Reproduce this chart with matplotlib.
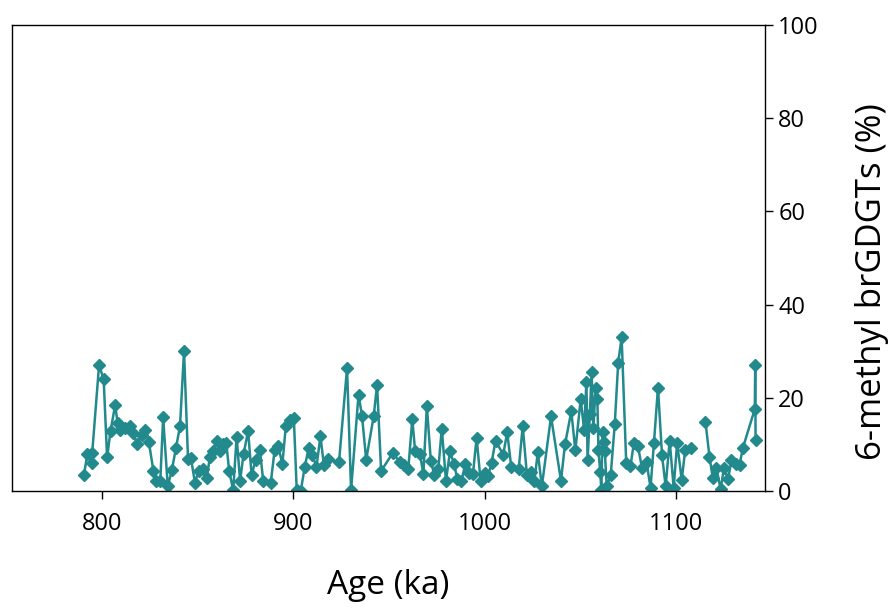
import numpy as np
import matplotlib
matplotlib.use('Agg')
import matplotlib.pyplot as plt

plt.rcParams['font.family'] = ['Open Sans', 'DejaVu Sans']

# age (ka) and 6-methyl brGDGT percentage
age = [790.6, 792.4, 794.6, 794.9, 798.5, 800.9, 802.7, 804.5, 806.9, 808.2,
       809.7, 811.8, 814.5, 816.3, 818.4, 820.8, 822.7, 824.5, 826.9, 828.1,
       830.5, 832.0, 834.4, 836.6, 838.7, 840.8, 842.9, 845.0, 846.5, 848.6,
       850.5, 852.6, 854.7, 856.5, 858.3, 860.1, 861.6, 863.1, 865.0, 866.5,
       868.6, 870.4, 872.2, 874.0, 876.4, 878.2, 880.4, 882.5, 884.3, 888.2,
       890.3, 892.1, 894.3, 896.1, 898.2, 900.3, 901.8, 903.9, 906.0, 908.1,
       909.9, 912.1, 914.2, 916.0, 918.1, 923.9, 928.1, 930.2, 934.1, 935.9,
       938.1, 942.0, 943.8, 945.9, 951.9, 955.9, 958.0, 960.1, 962.2, 963.7,
       966.2, 968.0, 969.8, 971.9, 973.7, 975.8, 977.6, 979.8, 981.9, 984.0,
       985.8, 987.9, 990.0, 991.8, 993.9, 995.8, 997.9, 1000.0, 1001.8, 1003.6,
       1005.7, 1009.7, 1011.8, 1013.9, 1017.8, 1019.9, 1022.1, 1024.2, 1026.0, 1027.8,
       1029.9, 1034.7, 1039.9, 1042.0, 1045.3, 1047.4, 1050.2, 1052.0, 1053.2, 1053.8,
       1055.0, 1055.9, 1056.8, 1058.0, 1058.9, 1059.5, 1060.4, 1061.0, 1061.6, 1062.2,
       1062.8, 1063.8, 1065.9, 1068.0, 1069.8, 1071.6, 1074.0, 1076.2, 1078.0, 1080.1,
       1082.2, 1084.6, 1086.7, 1088.5, 1090.6, 1092.7, 1094.6, 1096.7, 1098.8, 1100.6,
       1103.0, 1104.8, 1107.6, 1111.0, 1115.4, 1117.5, 1119.3, 1121.1, 1123.3, 1125.1,
       1127.2, 1129.0, 1131.4, 1133.2, 1135.0, 1141.2, 1141.4, 1141.6]
methyl6 = [3.5, 7.9, 6.0, 8.1, 27.0, 24.0, 7.2, 12.9, 18.4, 14.7,
           13.1, 13.5, 14.0, 12.4, 10.1, 12.0, 13.1, 10.6, 4.3, 2.2,
           2.2, 15.8, 1.0, 4.6, 9.2, 13.9, 30.0, 6.8, 7.1, 1.8,
           4.3, 4.7, 2.7, 7.4, 8.5, 10.7, 8.5, 10.1, 10.3, 4.3,
           0.2, 11.6, 2.2, 7.9, 12.9, 3.5, 6.7, 8.9, 2.2, 1.7,
           8.9, 9.7, 5.8, 13.9, 15.3, 15.6, 0.2, 0.0, 5.2, 9.3,
           7.8, 5.2, 11.7, 5.6, 6.8, 6.2, 26.4, 0.2, 20.7, 16.2,
           6.7, 16.0, 22.8, 4.3, 8.1, 6.2, 5.6, 4.7, 15.4, 8.5,
           7.9, 3.7, 18.2, 6.4, 3.5, 4.7, 13.4, 2.2, 8.5, 5.8,
           2.5, 2.2, 5.9, 3.9, 3.7, 11.4, 2.2, 3.9, 3.3, 6.0,
           10.8, 7.8, 12.6, 5.2, 4.7, 13.9, 3.5, 4.1, 2.2, 8.3,
           1.0, 16.0, 2.2, 10.0, 17.1, 8.7, 19.7, 13.1, 23.5, 6.6,
           16.6, 25.5, 13.5, 22.2, 19.7, 8.7, 4.1, 0.2, 12.6, 10.6,
           8.5, 1.0, 3.5, 14.3, 27.5, 33.0, 6.0, 5.3, 10.3, 9.7,
           5.0, 6.2, 0.7, 10.4, 22.2, 7.7, 1.0, 10.8, 0.7, 10.3,
           2.4, 8.7, 9.3, np.nan, 14.9, 7.4, 2.7, 5.0, 0.4, 4.9,
           2.5, 6.6, 5.7, 5.6, 9.3, 17.6, 27.0, 11.0]

xticks = [800, 900, 1000, 1100]
yticks = [0, 20, 40, 60, 80, 100]
teal = '#22898c'

fig = plt.figure(figsize=(8.95, 6.08), dpi=100)
ax = fig.add_axes([0.0134, 0.1924, 0.8413, 0.7665])

ax.plot(age, methyl6, color=teal, lw=1.8, marker='D', ms=6,
        mec=teal, mfc=teal)

ax.set_xlim(753, 1146.5)
ax.set_ylim(0, 100)
ax.set_xticks(xticks)
ax.set_yticks(yticks)
ax.yaxis.tick_right()
ax.yaxis.set_label_position('right')
ax.tick_params(axis='both', labelsize=17, length=6, width=1)
ax.tick_params(axis='x', pad=9)
ax.set_xlabel('Age (ka)', fontsize=24, labelpad=24)
ax.set_ylabel('6-methyl brGDGTs (%)', fontsize=25)
ax.yaxis.set_label_coords(1.12, 0.45)
for sp in ax.spines.values():
    sp.set_linewidth(1)

fig.savefig('out.png', dpi=100)
